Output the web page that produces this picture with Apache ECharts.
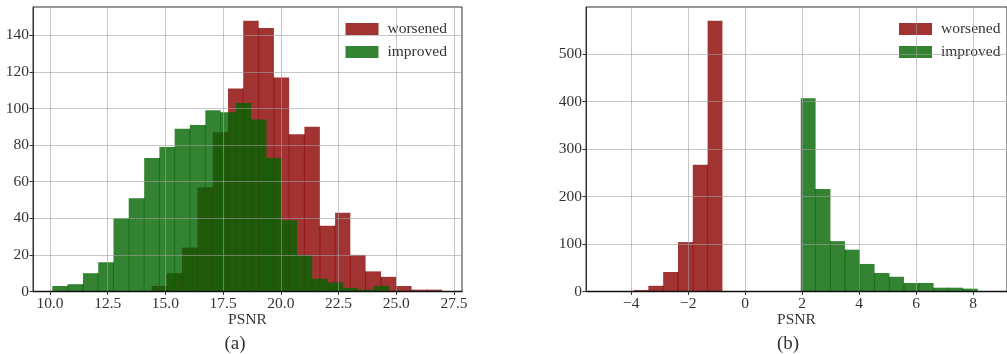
<!DOCTYPE html>
<html>
<head>
<meta charset="utf-8">
<script src="https://cdn.jsdelivr.net/npm/echarts@6/dist/echarts.min.js"></script>
<style>
html,body{margin:0;padding:0;background:#fff;}
#c{width:1007px;height:354px;}
</style>
</head>
<body>
<div id="c"></div>
<script>
// ---------- data (a) ----------
const worsenedEdgesA = [14.40, 15.06, 15.72, 16.39, 17.05, 17.71, 18.37, 19.04, 19.70, 20.36, 21.02, 21.69, 22.35, 23.01, 23.67, 24.34, 25.00, 25.66, 26.33, 26.99];
const worsenedCountsA = [3, 10, 24, 57, 87, 111, 148, 144, 117, 86, 90, 36, 43, 20, 11, 8, 3, 1, 1];
const improvedEdgesA = [10.10, 10.76, 11.43, 12.09, 12.75, 13.41, 14.08, 14.74, 15.40, 16.06, 16.73, 17.39, 18.05, 18.71, 19.38, 20.04, 20.70, 21.36, 22.03, 22.69, 23.35, 24.01, 24.68];
const improvedCountsA = [3, 4, 10, 16, 40, 51, 73, 79, 89, 91, 99, 98, 103, 94, 73, 39, 20, 7, 5, 2, 1, 3];
const xTicksA = [10.0, 12.5, 15.0, 17.5, 20.0, 22.5, 25.0, 27.5];
const yTicksA = [0, 20, 40, 60, 80, 100, 120, 140];

// ---------- data (b) ----------
const worsenedEdgesB = [-3.91, -3.40, -2.88, -2.36, -1.84, -1.32, -0.80];
const worsenedCountsB = [3, 12, 41, 104, 267, 570];
const improvedEdgesB = [1.95, 2.47, 2.99, 3.50, 4.02, 4.54, 5.06, 5.57, 6.09, 6.61, 7.13, 7.64, 8.16];
const improvedCountsB = [407, 216, 106, 88, 58, 39, 31, 18, 18, 8, 8, 6];
const xTicksB = [-4, -2, 0, 2, 4, 6, 8];
const yTicksB = [0, 100, 200, 300, 400, 500];

const seriesNames = ['worsened', 'improved'];
const panelLabels = ['(a)', '(b)'];
const axisName = 'PSNR';

// ---------- styling ----------
const FONT = "'Liberation Serif', 'DejaVu Serif', serif";
const RED = 'rgba(139,0,0,0.8)';
const GREEN = 'rgba(0,100,0,0.8)';
const TXT = '#333';
const GRIDC = 'rgba(160,160,160,0.6)';

function binData(edges, counts) {
  return counts.map((c, i) => [edges[i], edges[i + 1], c]);
}

function renderBar(params, api) {
  const x0 = api.value(0), x1 = api.value(1), h = api.value(2);
  const p0 = api.coord([x0, 0]);
  const p1 = api.coord([x1, h]);
  const color = api.visual('color');
  const children = [{
    type: 'rect',
    shape: { x: p0[0], y: p1[1], width: p1[0] - p0[0], height: p0[1] - p1[1] },
    style: { fill: color }
  }];
  if (params.dataIndexInside > 0) {
    const hp = api.value(2, params.dataIndexInside - 1);
    const hm = Math.min(h, hp);
    const pt = api.coord([x0, hm]);
    children.push({
      type: 'line',
      shape: { x1: p0[0], y1: pt[1], x2: p0[0], y2: p0[1] },
      style: { stroke: color, lineWidth: 1 }
    });
  }
  return { type: 'group', children };
}

function fmtA(v) { return Number(v).toFixed(1); }
function fmtB(v) { return v < 0 ? '\u2212' + Math.abs(v) : String(v); }

function xAxisCfg(gridIndex, min, max, ticks, fmt) {
  return {
    type: 'value', gridIndex, min, max, z: 5,
    name: axisName, nameLocation: 'middle', nameGap: 20.5, nameMoveOverlap: false,
    nameTextStyle: { fontFamily: FONT, fontSize: 15.5, color: TXT },
    axisLine: { show: true, onZero: false, lineStyle: { color: '#111', width: 1.3 } },
    axisTick: { show: true, inside: false, length: 3.5, customValues: ticks, lineStyle: { color: '#333', width: 1 } },
    axisLabel: { show: true, margin: 4, customValues: ticks, formatter: fmt, fontFamily: FONT, fontSize: 15.5, color: TXT },
    splitLine: { show: true, lineStyle: { color: GRIDC, width: 1 } }
  };
}
function yAxisCfg(gridIndex, max, ticks) {
  return {
    type: 'value', gridIndex, min: 0, max, z: 5,
    axisLine: { show: true, onZero: false, lineStyle: { color: '#333', width: 1 } },
    axisTick: { show: true, inside: false, length: 3.5, customValues: ticks, lineStyle: { color: '#333', width: 1 } },
    axisLabel: { show: true, margin: 4, customValues: ticks, fontFamily: FONT, fontSize: 15.5, color: TXT },
    splitLine: { show: true, lineStyle: { color: GRIDC, width: 1 } }
  };
}

function legendCfg(left) {
  return {
    data: seriesNames, orient: 'vertical', left, top: 16,
    itemWidth: 33, itemHeight: 12, itemGap: 7, icon: 'rect',
    textStyle: { fontFamily: FONT, fontSize: 15.5, color: TXT, padding: [0, 0, 0, 4] },
    selectedMode: false
  };
}

const chart = echarts.init(document.getElementById('c'), null, { renderer: 'canvas' });

const option = {
  animation: false,
  backgroundColor: '#fff',
  grid: [
    { left: 33, top: 7, width: 429, height: 284.5, show: true, borderColor: '#333', borderWidth: 1, backgroundColor: 'transparent' },
    { left: 586, top: 7, width: 440, height: 284.5, show: true, borderColor: '#333', borderWidth: 1, backgroundColor: 'transparent' }
  ],
  xAxis: [
    xAxisCfg(0, 9.264, 27.847, xTicksA, fmtA),
    xAxisCfg(1, -5.588, -5.588 + 440 / 29.78, xTicksB, fmtB)
  ],
  yAxis: [
    yAxisCfg(0, 155.5, yTicksA),
    yAxisCfg(1, 599, yTicksB)
  ],
  legend: [legendCfg(340.5), legendCfg(894)],
  graphic: [
    { type: 'text', style: { text: panelLabels[0], font: "19px " + FONT, fill: TXT, x: 235, y: 344, align: 'center', verticalAlign: 'middle' } },
    { type: 'text', style: { text: panelLabels[1], font: "19px " + FONT, fill: TXT, x: 788, y: 344, align: 'center', verticalAlign: 'middle' } }
  ],
  series: [
    { name: seriesNames[0], type: 'custom', xAxisIndex: 0, yAxisIndex: 0, renderItem: renderBar, itemStyle: { color: RED }, data: binData(worsenedEdgesA, worsenedCountsA), encode: { x: [0, 1], y: 2 } },
    { name: seriesNames[1], type: 'custom', xAxisIndex: 0, yAxisIndex: 0, renderItem: renderBar, itemStyle: { color: GREEN }, data: binData(improvedEdgesA, improvedCountsA), encode: { x: [0, 1], y: 2 } },
    { name: seriesNames[0], type: 'custom', xAxisIndex: 1, yAxisIndex: 1, renderItem: renderBar, itemStyle: { color: RED }, data: binData(worsenedEdgesB, worsenedCountsB), encode: { x: [0, 1], y: 2 } },
    { name: seriesNames[1], type: 'custom', xAxisIndex: 1, yAxisIndex: 1, renderItem: renderBar, itemStyle: { color: GREEN }, data: binData(improvedEdgesB, improvedCountsB), encode: { x: [0, 1], y: 2 } }
  ]
};
chart.setOption(option);
</script>
</body>
</html>
